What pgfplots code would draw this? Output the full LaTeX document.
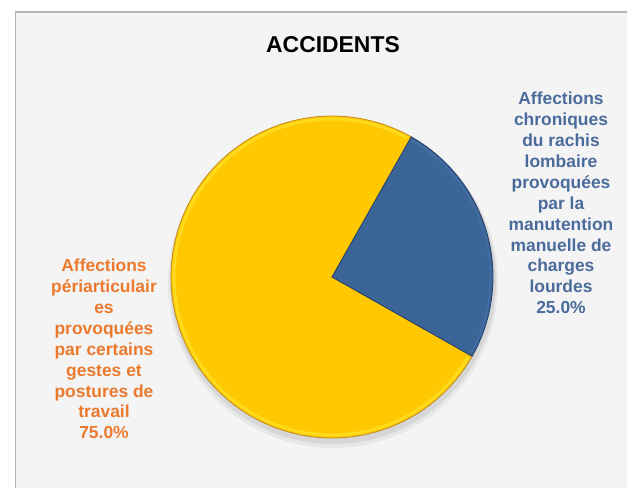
\documentclass[border=0pt]{standalone}
\usepackage{pgfplots}
\pgfplotsset{compat=1.18}
\usepackage{pgfplotstable}
\usepackage{fontspec}
\setmainfont{Liberation Sans}
\definecolor{bg}{HTML}{F4F4F4}
\definecolor{frame}{HTML}{B4B4B4}
\definecolor{pieY}{HTML}{FFC800}
\definecolor{pieYl}{HTML}{FFE22A}
\definecolor{pieYd}{HTML}{C08A20}
\definecolor{pieB}{HTML}{3B6497}
\definecolor{pieBl}{HTML}{4A76AC}
\definecolor{pieBd}{HTML}{22406A}
\definecolor{txtO}{HTML}{EB7A2E}
\definecolor{txtB}{HTML}{4A6B9C}

\pgfplotstableread{
slice value
B 25
Y 75
}\piedata

\begin{document}
\begin{tikzpicture}
\pgfplotstablegetelem{0}{value}\of\piedata \let\vB\pgfplotsretval
\pgfplotstablegetelem{1}{value}\of\piedata \let\vY\pgfplotsretval
\pgfmathsetmacro\aS{60.5}
\pgfmathsetmacro\aM{\aS-\vB/(\vB+\vY)*360}
\pgfmathsetmacro\aE{\aS-360}
\begin{axis}[width=627bp,height=488bp,scale only axis,
  xmin=0,xmax=627,ymin=0,ymax=488, hide axis, clip=true]
\fill[white] (axis cs:0,0) rectangle (axis cs:627,488);
\fill[bg] (axis cs:15,-5) rectangle (axis cs:640,476);
\draw[frame, line width=1.5bp] (axis cs:15.5,-5) -- (axis cs:15.5,476) -- (axis cs:640,476);
% shadow
\fill[black, opacity=0.07] (axis cs:333,207) circle[radius=163bp];
\fill[black, opacity=0.05] (axis cs:333,205) circle[radius=165bp];
% yellow slice
\addplot[draw=pieYd, line width=0.8bp, fill=pieY, domain=\aE:\aM, samples=150, variable=\t]
  ({332+161*cos(\t)},{211+161*sin(\t)}) -- (axis cs:332,211) -- cycle;
\addplot[draw=pieYl, line width=3bp, opacity=0.7, domain=\aE+1:\aM-1, samples=150, variable=\t]
  ({332+158*cos(\t)},{211+158*sin(\t)});
% blue slice
\addplot[draw=pieBd, line width=0.8bp, fill=pieB, domain=\aM:\aS, samples=60, variable=\t]
  ({332+161*cos(\t)},{211+161*sin(\t)}) -- (axis cs:332,211) -- cycle;
\addplot[draw=pieBl, line width=2bp, opacity=0.5, domain=\aM+1:\aS-1, samples=60, variable=\t]
  ({332+158.5*cos(\t)},{211+158.5*sin(\t)});
% texts
\node[font=\bfseries\fontsize{23}{27}\selectfont, text=black, inner sep=0pt]
  at (axis cs:333,443) {ACCIDENTS};
\node[font=\bfseries\fontsize{17.5}{21}\selectfont, text=txtB, align=center, inner sep=0pt]
  at (axis cs:561,285) {Affections\\chroniques\\du rachis\\lombaire\\provoquées\\par la\\manutention\\manuelle de\\charges\\lourdes\\25.0\%};
\node[font=\bfseries\fontsize{17.5}{21}\selectfont, text=txtO, align=center, inner sep=0pt]
  at (axis cs:104,139) {Affections\\périarticulair\\es\\provoquées\\par certains\\gestes et\\postures de\\travail\\75.0\%};
\end{axis}
\end{tikzpicture}
\end{document}
